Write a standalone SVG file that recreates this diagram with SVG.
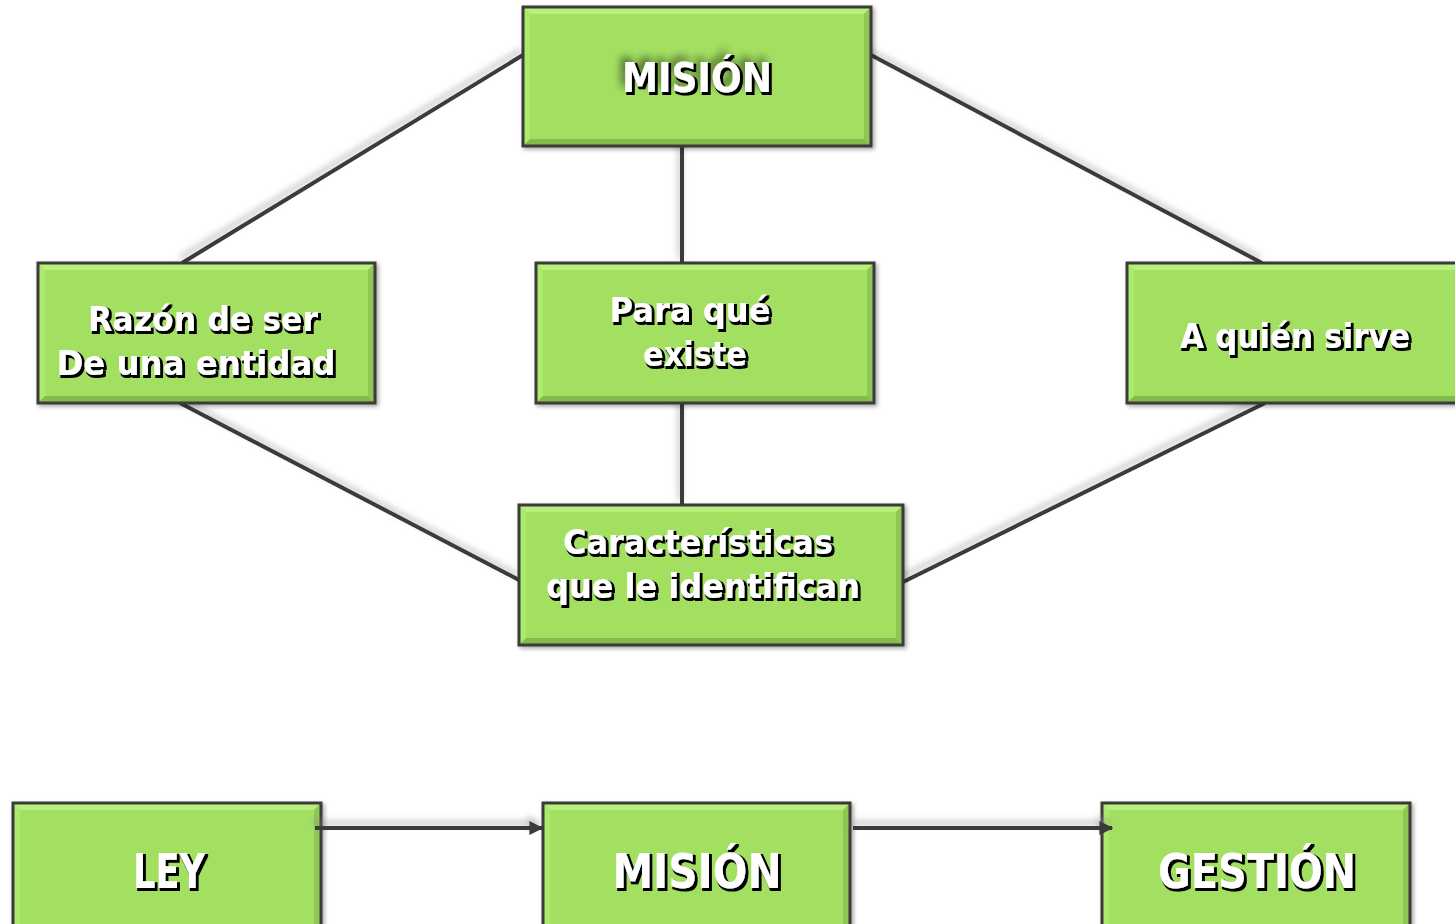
<svg xmlns="http://www.w3.org/2000/svg" width="1455" height="924" viewBox="0 0 1455 924">
<defs>
<style>
.face{fill:#a3e062}
.bt{fill:#b8f07e}
.bl{fill:#acea6c}
.bb{fill:#84ba4c}
.br{fill:#8fc655}
.edge{fill:none;stroke:#3a3a3a;stroke-width:3}
.conn{fill:none;stroke:#3a3a3a;stroke-width:4}
.lbl{font-family:"DejaVu Sans","Liberation Sans",sans-serif;font-weight:bold;text-anchor:middle;fill:#fff;filter:url(#textShadow)}
.big{filter:url(#textShadowBlur)}
</style>
<filter id="lineGlow" filterUnits="userSpaceOnUse" x="0" y="0" width="1455" height="924">
<feGaussianBlur in="SourceAlpha" stdDeviation="3" result="b"/>
<feOffset in="b" dx="-2" dy="-5" result="o"/>
<feFlood flood-color="#8a8a8a" flood-opacity="0.55"/>
<feComposite in2="o" operator="in" result="s"/>
<feMerge><feMergeNode in="s"/><feMergeNode in="SourceGraphic"/></feMerge>
</filter>
<filter id="boxShadow" x="-5%" y="-5%" width="115%" height="120%">
<feGaussianBlur in="SourceAlpha" stdDeviation="2" result="b"/>
<feOffset in="b" dx="2" dy="2" result="o"/>
<feFlood flood-color="#000" flood-opacity="0.35"/>
<feComposite in2="o" operator="in" result="s"/>
<feMerge><feMergeNode in="s"/><feMergeNode in="SourceGraphic"/></feMerge>
</filter>
<filter id="textShadow" x="-10%" y="-30%" width="120%" height="160%">
<feMorphology in="SourceAlpha" operator="dilate" radius="0.6" result="d"/>
<feOffset in="d" dx="2" dy="2" result="o"/>
<feMerge><feMergeNode in="o"/><feMergeNode in="SourceGraphic"/></feMerge>
</filter>
<filter id="textShadowBlur" x="-20%" y="-60%" width="140%" height="220%">
<feGaussianBlur in="SourceAlpha" stdDeviation="4" result="bl"/>
<feOffset in="bl" dx="-4" dy="-5" result="blo"/>
<feComponentTransfer in="blo" result="blf"><feFuncA type="linear" slope="0.55"/></feComponentTransfer>
<feMorphology in="SourceAlpha" operator="dilate" radius="0.6" result="d"/>
<feOffset in="d" dx="2" dy="2" result="o"/>
<feMerge><feMergeNode in="blf"/><feMergeNode in="o"/><feMergeNode in="SourceGraphic"/></feMerge>
</filter>
<marker id="arrow" viewBox="0 0 10 10" refX="9" refY="5" markerWidth="3.5" markerHeight="3.5" orient="auto" markerUnits="strokeWidth">
<path d="M0,0 L10,5 L0,10 z" fill="#3a3a3a"/>
</marker>
</defs>
<rect width="1455" height="924" fill="#fff"/>

<g id="connectors" filter="url(#lineGlow)">
<line class="conn" x1="523" y1="55" x2="182" y2="263"/>
<line class="conn" x1="871" y1="55" x2="1262" y2="263"/>
<line class="conn" x1="682" y1="146" x2="682" y2="263"/>
<line class="conn" x1="682" y1="403" x2="682" y2="505"/>
<line class="conn" x1="180" y1="403" x2="519" y2="580"/>
<line class="conn" x1="1265" y1="403" x2="903" y2="582"/>
</g>

<g id="node-mision-top" filter="url(#boxShadow)">
<rect class="face" x="523" y="7" width="348" height="139"/>
<polygon class="bt" points="523,7 871,7 864,14 530,14"/>
<polygon class="bl" points="523,7 530,14 530,139 523,146"/>
<polygon class="bb" points="523,146 871,146 864,139 530,139"/>
<polygon class="br" points="871,7 864,14 864,139 871,146"/>
<rect class="edge" x="523" y="7" width="348" height="139"/>
<text class="lbl big" x="697" y="92" font-size="40" textLength="150" lengthAdjust="spacingAndGlyphs">MISIÓN</text>
</g>

<g id="node-razon" filter="url(#boxShadow)">
<rect class="face" x="38" y="263" width="337" height="140"/>
<polygon class="bt" points="38,263 375,263 368,270 45,270"/>
<polygon class="bl" points="38,263 45,270 45,396 38,403"/>
<polygon class="bb" points="38,403 375,403 368,396 45,396"/>
<polygon class="br" points="375,263 368,270 368,396 375,403"/>
<rect class="edge" x="38" y="263" width="337" height="140"/>
<text class="lbl" x="203" y="331" font-size="34" textLength="230" lengthAdjust="spacingAndGlyphs">Razón de ser</text>
<text class="lbl" x="196" y="375" font-size="34" textLength="279" lengthAdjust="spacingAndGlyphs">De una entidad</text>
</g>

<g id="node-paraque" filter="url(#boxShadow)">
<rect class="face" x="536" y="263" width="338" height="140"/>
<polygon class="bt" points="536,263 874,263 867,270 543,270"/>
<polygon class="bl" points="536,263 543,270 543,396 536,403"/>
<polygon class="bb" points="536,403 874,403 867,396 543,396"/>
<polygon class="br" points="874,263 867,270 867,396 874,403"/>
<rect class="edge" x="536" y="263" width="338" height="140"/>
<text class="lbl" x="690" y="322" font-size="34" textLength="161" lengthAdjust="spacingAndGlyphs">Para qué</text>
<text class="lbl" x="695" y="366" font-size="34" textLength="104" lengthAdjust="spacingAndGlyphs">existe</text>
</g>

<g id="node-aquien" filter="url(#boxShadow)">
<rect class="face" x="1127" y="263" width="340" height="140"/>
<polygon class="bt" points="1127,263 1467,263 1460,270 1134,270"/>
<polygon class="bl" points="1127,263 1134,270 1134,396 1127,403"/>
<polygon class="bb" points="1127,403 1467,403 1460,396 1134,396"/>
<rect class="edge" x="1127" y="263" width="340" height="140"/>
<text class="lbl" x="1295" y="348" font-size="34" textLength="230" lengthAdjust="spacingAndGlyphs">A quién sirve</text>
</g>

<g id="node-caracteristicas" filter="url(#boxShadow)">
<rect class="face" x="519" y="505" width="384" height="140"/>
<polygon class="bt" points="519,505 903,505 896,512 526,512"/>
<polygon class="bl" points="519,505 526,512 526,638 519,645"/>
<polygon class="bb" points="519,645 903,645 896,638 526,638"/>
<polygon class="br" points="903,505 896,512 896,638 903,645"/>
<rect class="edge" x="519" y="505" width="384" height="140"/>
<text class="lbl" x="698" y="554" font-size="34" textLength="270" lengthAdjust="spacingAndGlyphs">Características</text>
<text class="lbl" x="703" y="598" font-size="34" textLength="314" lengthAdjust="spacingAndGlyphs">que le identifican</text>
</g>

<g id="node-ley" filter="url(#boxShadow)">
<rect class="face" x="13" y="803" width="308" height="135"/>
<polygon class="bt" points="13,803 321,803 314,810 20,810"/>
<polygon class="bl" points="13,803 20,810 20,938 13,938"/>
<polygon class="br" points="321,803 314,810 314,938 321,938"/>
<rect class="edge" x="13" y="803" width="308" height="135"/>
<text class="lbl" x="169" y="888" font-size="48" textLength="72" lengthAdjust="spacingAndGlyphs">LEY</text>
</g>

<g id="node-mision-bottom" filter="url(#boxShadow)">
<rect class="face" x="543" y="803" width="307" height="135"/>
<polygon class="bt" points="543,803 850,803 843,810 550,810"/>
<polygon class="bl" points="543,803 550,810 550,938 543,938"/>
<polygon class="br" points="850,803 843,810 843,938 850,938"/>
<rect class="edge" x="543" y="803" width="307" height="135"/>
<text class="lbl" x="697" y="888" font-size="48" textLength="169" lengthAdjust="spacingAndGlyphs">MISIÓN</text>
</g>

<g id="node-gestion" filter="url(#boxShadow)">
<rect class="face" x="1102" y="803" width="308" height="135"/>
<polygon class="bt" points="1102,803 1410,803 1403,810 1109,810"/>
<polygon class="bl" points="1102,803 1109,810 1109,938 1102,938"/>
<polygon class="br" points="1410,803 1403,810 1403,938 1410,938"/>
<rect class="edge" x="1102" y="803" width="308" height="135"/>
<text class="lbl" x="1257" y="888" font-size="48" textLength="198" lengthAdjust="spacingAndGlyphs">GESTIÓN</text>
</g>

<g id="arrows" filter="url(#lineGlow)">
<line class="conn" x1="315" y1="828" x2="542" y2="828" marker-end="url(#arrow)"/>
<line class="conn" x1="853" y1="828" x2="1112" y2="828" marker-end="url(#arrow)"/>
</g>
</svg>
